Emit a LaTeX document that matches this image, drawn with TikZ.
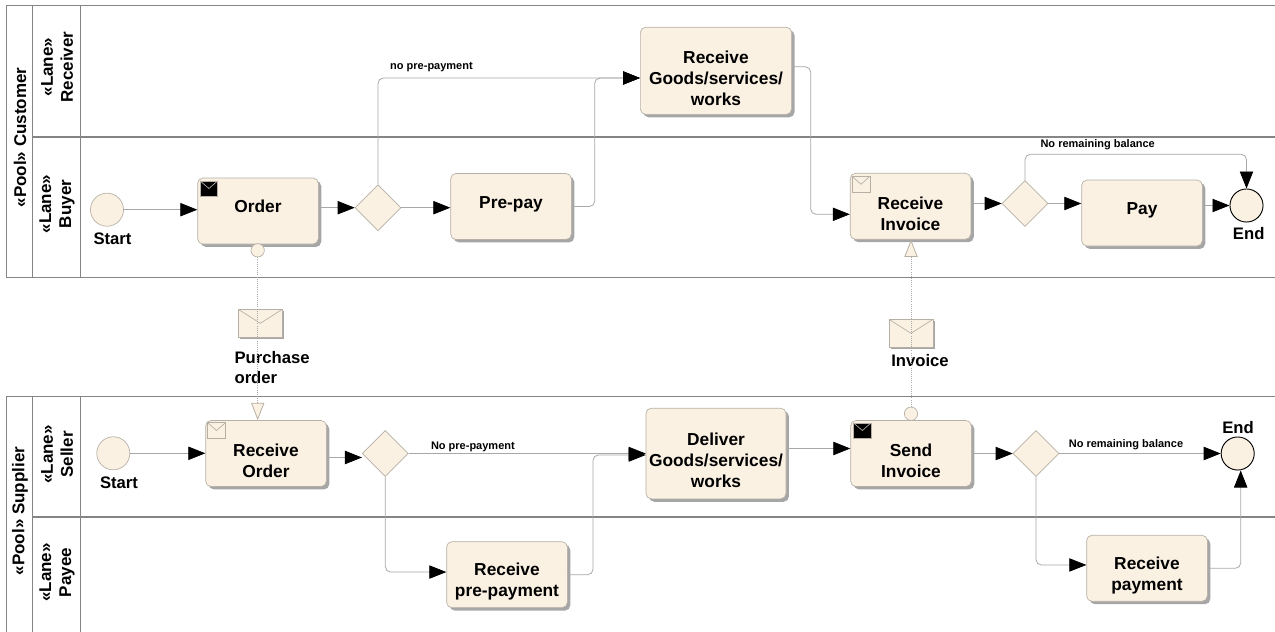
\documentclass[tikz,border=0pt]{standalone}
\usepackage{fontspec}
\setmainfont{Liberation Sans}
\usetikzlibrary{arrows.meta,shapes.geometric,shadows}
\definecolor{cream}{HTML}{FBF1E3}
\definecolor{edgegray}{HTML}{A8A8A8}
\definecolor{lanegray}{HTML}{858585}
\definecolor{boxgray}{HTML}{B5AFA5}
\definecolor{shadegray}{HTML}{A6A6A6}
\newcommand{\lowtext}{\rule{0pt}{20pt}}
\newcommand{\hightext}{\rule[-6.5pt]{0pt}{6.5pt}}

\begin{document}
\begin{tikzpicture}
        [x=0.75pt,y=-0.75pt,
        task/.style={draw=boxgray,fill=cream,rounded corners=4pt,line width=0.5pt,inner sep=0,align=center,font=\bfseries\fontsize{13}{15.75}\selectfont,minimum width=90.5pt,minimum height=49.5pt,drop shadow={shadow xshift=2.2pt,shadow yshift=-2.2pt,opacity=1,fill=shadegray}},
        gate/.style={draw=boxgray,fill=cream,shape=diamond,inner sep=0,minimum width=34.5pt,minimum height=34.5pt,line width=0.5pt},
        event/.style={draw=boxgray,fill=cream,shape=circle,inner sep=0,minimum size=24.8pt,line width=0.5pt},
        stopevent/.style={event,draw=black,line width=0.7pt},
        port/.style={draw=boxgray,fill=cream,shape=circle,inner sep=0,minimum size=10pt,line width=0.5pt},
        envelope/.style={draw=boxgray,fill=cream,inner sep=0,minimum width=#1,path picture={\draw[boxgray,line width=0.5pt] (path picture bounding box.north west) -- (path picture bounding box.center) -- (path picture bounding box.north east);}},
        msg/.style={envelope=33pt,minimum height=21pt,drop shadow={shadow xshift=1.5pt,shadow yshift=-1.5pt,opacity=1,fill=shadegray}},
        iconwhite/.style={envelope=13.5pt,minimum height=12pt,anchor=north west},
        iconblack/.style={envelope=13pt,minimum height=11.3pt,anchor=north west,fill=black},
        flow/.style={draw=edgegray,line width=0.6pt,rounded corners=4pt,-{Triangle[length=12.75pt,width=10pt,color=black]}},
        msgflow/.style={draw=edgegray,line width=0.6pt,densely dotted,-{Triangle[length=13pt,width=10pt,fill=cream,color=boxgray]}},
        lane/.style={draw=lanegray,line width=0.6pt},
        lanethick/.style={draw=lanegray,line width=1.3pt},
        title/.style={rotate=90,inner sep=0,align=center,font=\bfseries\fontsize{12.75}{15}\selectfont},
        bigtext/.style={inner sep=0,align=left,font=\bfseries\fontsize{12.5}{15}\selectfont},
        smalltext/.style={inner sep=0,font=\bfseries\fontsize{8.25}{10}\selectfont}]

        \useasboundingbox (0,0) rectangle (1275,632);

        % pools and lanes
        \draw[lane] (1275,5.5) -- (6,5.5) -- (6,277.3) -- (1275,277.3);
        \draw[lane] (1275,396.3) -- (6,396.3) -- (6,632);
        \draw[lane] (32.7,5.5) -- (32.7,277.3);
        \draw[lane] (80,5.5) -- (80,277.3);
        \draw[lane] (32.7,396.3) -- (32.7,632);
        \draw[lane] (80,396.3) -- (80,632);
        \draw[lanethick] (32.7,136.7) -- (1275,136.7);
        \draw[lanethick] (32.7,516.7) -- (1275,516.7);

        \node[title] (customer) at (20,137.5) {«Pool» Customer};
        \node[title] (receiver) at (57,67) {«Lane»\\Receiver};
        \node[title] (buyer) at (57,204) {«Lane»\\Buyer};
        \node[title] (supplier) at (20,511) {«Pool» Supplier};
        \node[title] (seller) at (57,454.5) {«Lane»\\Seller};
        \node[title] (payee) at (57,572.5) {«Lane»\\Payee};

        % customer
        \node[event] (start1) at (107,209.7) {};
        \node[task] (order) at (258,211) {\hightext Order};
        \node[gate] (gate1) at (378,207.7) {};
        \node[task] (prepay) at (511,206.5) {\hightext Pre-pay};
        \node[task,minimum width=113.5pt,minimum height=65.3pt] (goods) at (716,70.8) {\lowtext Receive\\Goods/services/\\works};
        \node[task] (invoice) at (910.5,206.3) {\lowtext Receive\\Invoice};
        \node[gate] (gate2) at (1025,203.5) {};
        \node[task] (pay) at (1142,213) {\hightext Pay};
        \node[stopevent] (end1) at (1246.5,205.5) {};

        % supplier
        \node[event] (start2) at (113.3,453.3) {};
        \node[task] (rorder) at (266,453.5) {\lowtext Receive\\Order};
        \node[gate] (gate3) at (385.3,453.5) {};
        \node[task,minimum width=105pt,minimum height=68pt] (deliver) at (716,453.5) {\lowtext Deliver\\Goods/services/\\works};
        \node[task] (sendinv) at (911,453.5) {\lowtext Send\\Invoice};
        \node[gate] (gate4) at (1036,453.5) {};
        \node[stopevent] (end2) at (1237.7,453.5) {};
        \node[task] (rprepay) at (507,574.7) {\lowtext Receive\\pre-payment};
        \node[task] (rpay) at (1147,568.3) {\lowtext Receive\\payment};

        % task icons
        \node[iconblack] (icon1) at (200,180.7) {};
        \node[iconwhite] (icon2) at (851.7,176) {};
        \node[iconwhite] (icon3) at (207.3,422.3) {};
        \node[iconblack] (icon4) at (853.4,422.7) {};

        % messages
        \node[port] (port1) at (257.7,250.3) {};
        \node[port] (port2) at (911,413.7) {};
        \node[msg] (msg1) at (260.3,323.3) {};
        \node[msg] (msg2) at (911,333.3) {};

        % texts
        \node[bigtext] (startlab1) at (112.5,239) {Start};
        \node[bigtext] (endlab1) at (1248.7,234) {End};
        \node[bigtext] (startlab2) at (119,482.7) {Start};
        \node[bigtext] (endlab2) at (1238,427.7) {End};
        \node[bigtext,anchor=west] (msglab1) at (234.3,368) {Purchase\\order};
        \node[bigtext] (msglab2) at (920,361) {Invoice};
        \node[smalltext] (flowlab1) at (431.5,67) {no pre-payment};
        \node[smalltext] (flowlab2) at (1097.7,145) {No remaining balance};
        \node[smalltext] (flowlab3) at (472.9,447.3) {No pre-payment};
        \node[smalltext] (flowlab4) at (1126,444.7) {No remaining balance};

        \coordinate (bend1) at (594.7,78);
        \coordinate (bend2) at (810.7,140);
        \coordinate (bend3) at (1100,154.3);
        \coordinate (bend4) at (593,455);

        \draw[flow] (start1) -- (start1 -| order.west);
        \draw[flow] (order.east |- gate1) -- (gate1);
        \draw[flow] (gate1) -- (prepay.west |- gate1);
        \draw[flow] (gate1) |- ([yshift=-5.4pt]goods.west);
        \draw[flow] (prepay.east) -| (bend1) -- ([yshift=-5.4pt]goods.west);
        \draw[flow] ([yshift=3pt]goods.east) -| (bend2) |- ([yshift=-6pt]invoice.west);
        \draw[flow] (invoice.east |- gate2) -- (gate2);
        \draw[flow] (gate2) -- (pay.west |- gate2);
        \draw[flow] (gate2) |- (bend3) -| (end1);
        \draw[flow] (pay.east |- end1) -- (end1);

        \draw[flow] (start2) -- (start2 -| rorder.west);
        \draw[flow] ([yshift=-3pt]rorder.east) -- ([yshift=-3pt]gate3.west);
        \draw[flow] (gate3) -- (deliver.west |- gate3);
        \draw[flow] (gate3) |- ([yshift=2pt]rprepay.west);
        \draw[flow] (rprepay.east) -| (bend4) -- (bend4 -| deliver.west);
        \draw[flow] ([yshift=3.75pt]deliver.east) -- ([yshift=3.75pt]sendinv.west);
        \draw[flow] (sendinv.east |- gate4) -- (gate4);
        \draw[flow] (gate4) -- (end2);
        \draw[flow] (gate4) |- ([yshift=2.5pt]rpay.west);
        \draw[flow] (rpay.east) -| ([xshift=2.25pt]end2.south);

        \draw[msgflow] (port1) -- (port1 |- rorder.north);
        \draw[msgflow] (port2) -- (port2 |- invoice.south);

      \end{tikzpicture}
\end{document}
